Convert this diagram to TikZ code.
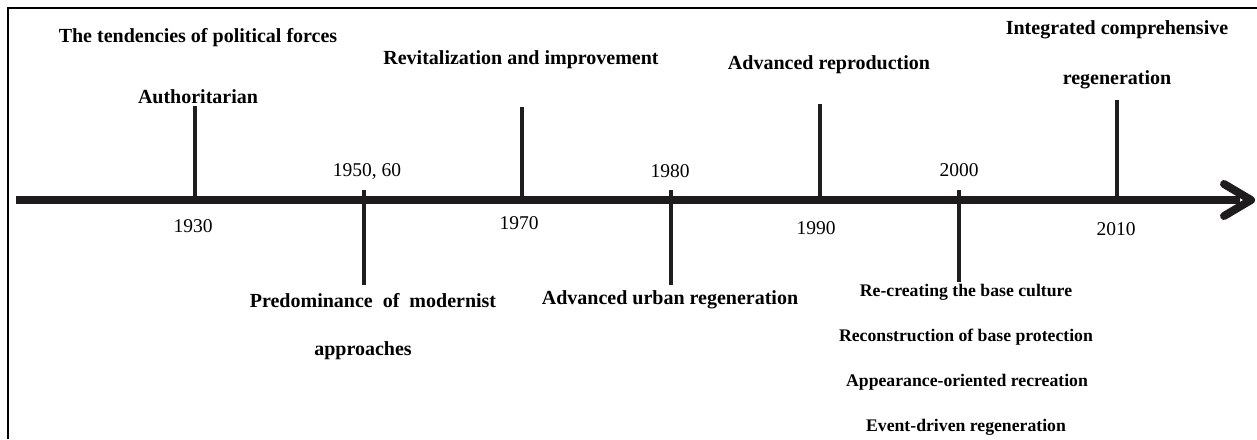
\documentclass[tikz,border=0pt]{standalone}
\usepackage{fontspec}
\setmainfont{Liberation Serif}
\usetikzlibrary{arrows.meta}
\tikzset{
  lbl/.style={font=\fontsize{20}{22}\selectfont\bfseries, inner sep=0pt, anchor=center},
  lblsm/.style={font=\fontsize{17.7}{20}\selectfont\bfseries, inner sep=0pt, anchor=center},
  yr/.style={font=\fontsize{19.5}{21}\selectfont, inner sep=0pt, anchor=center},
  tick/.style={line width=4.5pt, draw={rgb,255:red,30;green,30;blue,30}},
  axis/.style={line width=8pt, draw={rgb,255:red,30;green,28;blue,28}},
  frame/.style={line width=2.2pt, draw=black}
}
\begin{document}
\begin{tikzpicture}[x=1pt,y=-1pt]
\useasboundingbox (0,0) rectangle (1257,439);
% frame (top and left only)
\draw[frame] (8,439) -- (8,8) -- (1257,8);
% axis
\coordinate (start) at (16,200);
\coordinate (tip) at (1251,200);
\draw[axis] (start) -- (1240,200);
\draw[axis, line cap=round, line join=round] (1224,184) -- (tip) -- (1224,216);
% ticks up
\foreach \n/\x/\t in {a/195/106, c/522/107, e/820/104, g/1117/100}{
  \coordinate (\n top) at (\x,\t);
  \coordinate (\n base) at (\x,196);
  \draw[tick] (\n base) -- (\n top);
}
% ticks down
\foreach \n/\x/\b in {b/364/285, d/671/285, f/959/282}{
  \coordinate (\n top) at (\x,190);
  \coordinate (\n bot) at (\x,\b);
  \draw[tick] (\n top) -- (\n bot);
}
% labels 1930
\node[lbl] (tend) at (198,38) {The tendencies of political forces};
\node[lbl] (auth) at (198,97) {Authoritarian};
\node[yr] (y1930) at (193,226) {1930};
% 1950, 60
\node[yr] (y1950) at (367,172) {1950, 60};
\node[lbl] (pred) at (373,301) {Predominance \ of \ modernist};
\node[lbl] (appr) at (363,351) {approaches};
% 1970
\node[lbl] (revi) at (521,60) {Revitalization and improvement};
\node[yr] (y1970) at (519,223) {1970};
% 1980
\node[yr] (y1980) at (670,171) {1980};
\node[lbl] (urb) at (670,300) {Advanced urban regeneration};
% 1990
\node[lbl] (repr) at (829,65) {Advanced reproduction};
\node[yr] (y1990) at (816,228) {1990};
% 2000
\node[yr] (y2000) at (959,170) {2000};
\node[lblsm] (rc1) at (966,292) {Re-creating the base culture};
\node[lblsm] (rc2) at (966,337) {Reconstruction of base protection};
\node[lblsm] (rc3) at (967,382) {Appearance-oriented recreation};
\node[lblsm] (rc4) at (966,427) {Event-driven regeneration};
% 2010
\node[lbl] (intg) at (1117,30) {Integrated comprehensive};
\node[lbl] (regn) at (1117,80) {regeneration};
\node[yr] (y2010) at (1116,229) {2010};
\end{tikzpicture}
\end{document}
